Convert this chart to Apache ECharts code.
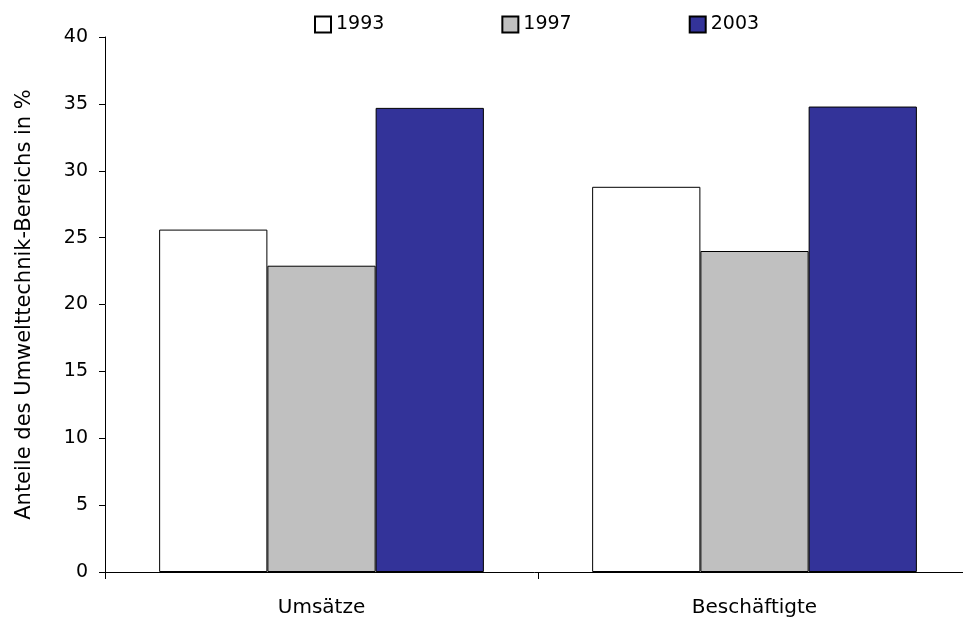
<!DOCTYPE html>
<html>
<head>
<meta charset="utf-8">
<script src="https://cdn.jsdelivr.net/npm/echarts@6/dist/echarts.min.js"></script>
<style>
  html, body { margin: 0; padding: 0; background: #fff; }
  #chart { width: 963px; height: 619px; }
</style>
</head>
<body>
<div id="chart"></div>
<script>
// Categories and yearly shares (%) of the environmental technology sector
const categories = ['Umsätze', 'Beschäftigte'];
const years = ['1993', '1997', '2003'];
const values1993 = [25.6, 28.8];
const values1997 = [22.9, 24.0];
const values2003 = [34.7, 34.8];
const yTicks = { min: 0, max: 40, interval: 5 };
const yTitle = 'Anteile des Umwelttechnik-Bereichs in %';

const FONT = 'DejaVu Sans';
const colors = ['#ffffff', '#c0c0c0', '#333399'];
const seriesValues = [values1993, values1997, values2003];

const chart = echarts.init(document.getElementById('chart'), null, { renderer: 'canvas' });

chart.setOption({
  animation: false,
  backgroundColor: '#ffffff',
  textStyle: { fontFamily: FONT, color: '#000' },
  legend: {
    left: 314,
    top: 15,
    padding: 0,
    itemWidth: 16,
    itemHeight: 16,
    itemGap: 117,
    icon: 'rect',
    data: years,
    textStyle: { fontFamily: FONT, fontSize: 19, color: '#000', width: 50 }
  },
  // plot area runs past the right edge of the canvas, second category is cut off there
  grid: { left: 105, top: 37, width: 866, bottom: 47, containLabel: false, outerBoundsMode: 'none' },
  xAxis: {
    type: 'category',
    data: categories,
    axisLine: { lineStyle: { color: '#000', width: 1 } },
    axisTick: { show: true, length: 7, lineStyle: { color: '#000' } },
    axisLabel: { fontFamily: FONT, fontSize: 20, color: '#000', margin: 26 }
  },
  yAxis: {
    type: 'value',
    min: yTicks.min,
    max: yTicks.max,
    interval: yTicks.interval,
    name: yTitle,
    nameLocation: 'middle',
    nameGap: 70,
    nameRotate: 90,
    nameTextStyle: { fontFamily: FONT, fontSize: 21, color: '#000' },
    axisLine: { show: true, lineStyle: { color: '#000', width: 1 } },
    axisTick: { show: true, length: 6, lineStyle: { color: '#000' } },
    axisLabel: { fontFamily: FONT, fontSize: 19, color: '#000', margin: 17 },
    splitLine: { show: false }
  },
  series: years.map((y, i) => ({
    name: y,
    type: 'bar',
    data: seriesValues[i],
    barGap: '0%',
    barCategoryGap: '25%',
    itemStyle: { color: colors[i], borderColor: '#000', borderWidth: 1 }
  }))
});
</script>
</body>
</html>
